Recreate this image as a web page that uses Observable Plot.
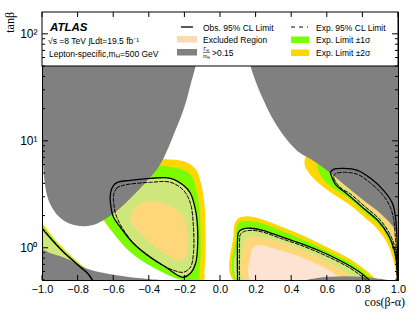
<!DOCTYPE html>
<html><head><meta charset="utf-8">
<script src="https://cdn.jsdelivr.net/npm/d3@7"></script>
<script src="https://cdn.jsdelivr.net/npm/@observablehq/plot@0.6"></script>
<style>body{margin:0;background:#fff} svg{display:block}</style>
</head><body><div id="chart"></div>
<script>
// axis ticks
const xTicks = [-1, -0.8, -0.6, -0.4, -0.2, 0, 0.2, 0.4, 0.6, 0.8, 1];
const yTicks = [1, 10, 100];
const yMinor = [0.5,0.6,0.7,0.8,0.9,2,3,4,5,6,7,8,9,20,30,40,50,60,70,80,90];

// Γ/m > 0.15 regions (grey)
const grayLeft = [[-1,160],[-0.073,160],[-0.140,50.2],[-0.169,33.4],[-0.191,24.2],[-0.219,17.5],[-0.253,12.7],[-0.287,9.18],[-0.326,6.64],[-0.365,5.24],[-0.410,4.32],[-0.461,3.48],[-0.517,2.81],[-0.573,2.31],[-0.640,1.91],[-0.702,1.68],[-0.758,1.61],[-0.815,1.64],[-0.865,1.75],[-0.910,1.99],[-0.944,2.37],[-0.966,2.81],[-0.983,3.64],[-0.992,4.81],[-0.997,6.64],[-1,8.24]];
const grayRight = [[0.124,160],[1,160],[1,1.14],[0.994,1.27],[0.972,1.57],[0.899,2.12],[0.803,2.81],[0.713,3.72],[0.618,5.02],[0.551,6.10],[0.489,7.09],[0.449,7.72],[0.376,10.2],[0.298,15.7],[0.242,24.2],[0.202,34.8],[0.169,50.2],[0.140,87.9]];
const grayLowLeft = [[-1,0.958],[-0.955,0.898],[-0.899,0.842],[-0.843,0.773],[-0.798,0.709],[-0.758,0.650],[-0.702,0.610],[-0.618,0.572],[-0.506,0.536],[-0.393,0.513],[-0.309,0.5],[-1,0.5]];
const grayLowRight = [[0.478,0.5],[0.534,0.525],[0.618,0.542],[0.702,0.548],[0.787,0.542],[0.871,0.525],[0.944,0.5]];

// lower-left corner band
const yellowLL = [[-1,1.68],[-0.966,1.44],[-0.927,1.19],[-0.882,1.0],[-0.831,0.824],[-0.787,0.709],[-0.742,0.623],[-0.702,0.560],[-0.674,0.5],[-1,0.5]];
const greenLL = [[-1,1.61],[-0.966,1.38],[-0.927,1.16],[-0.882,0.958],[-0.831,0.798],[-0.787,0.686],[-0.742,0.603],[-0.708,0.542],[-0.685,0.5],[-1,0.5]];
const obsLL = [[-1,1.51],[-0.961,1.27],[-0.921,1.07],[-0.876,0.898],[-0.831,0.773],[-0.787,0.665],[-0.747,0.584],[-0.719,0.5]];
const expLL = [[-1,1.54],[-0.961,1.29],[-0.921,1.09],[-0.876,0.908],[-0.831,0.781],[-0.787,0.672],[-0.747,0.590],[-0.716,0.5]];
const corner = [[-1,0.5]];

// left island
const yellowBlob = [[-0.393,6.94],[-0.309,6.79],[-0.236,6.64],[-0.180,6.23],[-0.135,5.36],[-0.107,3.88],[-0.090,2.52],[-0.084,1.47],[-0.084,0.860],[-0.090,0.623],[-0.096,0.5],[-0.185,0.5],[-0.264,0.560],[-0.354,0.665],[-0.449,0.824],[-0.545,1.11],[-0.646,1.71],[-0.702,2.52],[-0.674,4.32],[-0.562,5.97]];
const greenBlob = [[-0.393,6.10],[-0.309,5.84],[-0.236,5.59],[-0.191,5.24],[-0.157,4.61],[-0.135,3.48],[-0.118,2.37],[-0.112,1.47],[-0.112,0.860],[-0.118,0.623],[-0.124,0.5],[-0.197,0.5],[-0.253,0.525],[-0.337,0.610],[-0.438,0.756],[-0.534,1.02],[-0.629,1.61],[-0.685,2.37],[-0.657,4.05],[-0.551,5.59]];
const obsBlob = [[-0.618,3.27],[-0.601,3.88],[-0.579,4.14],[-0.506,4.32],[-0.393,4.51],[-0.281,4.51],[-0.208,3.88],[-0.169,3.27],[-0.140,2.26],[-0.129,1.57],[-0.129,1.02],[-0.140,0.724],[-0.169,0.584],[-0.208,0.536],[-0.242,0.560],[-0.298,0.650],[-0.393,0.824],[-0.489,1.11],[-0.562,1.57],[-0.601,1.95],[-0.618,2.63]];
const expBlob = [[-0.601,3.13],[-0.584,3.64],[-0.545,3.88],[-0.393,4.14],[-0.281,4.14],[-0.208,3.48],[-0.169,2.63],[-0.152,1.57],[-0.152,0.898],[-0.169,0.665],[-0.208,0.597],[-0.264,0.623],[-0.354,0.740],[-0.466,1.02],[-0.551,1.54],[-0.590,2.12],[-0.601,2.81]];
const orangeBlob = [[-0.506,1.83],[-0.489,2.26],[-0.449,2.63],[-0.354,2.75],[-0.264,2.42],[-0.208,1.95],[-0.185,1.41],[-0.185,1.0],[-0.197,0.824],[-0.242,0.773],[-0.320,0.898],[-0.410,1.19],[-0.478,1.54]];

// middle region
const yellowMid = [[0.073,0.5],[0.073,1.32],[0.079,1.68],[0.101,1.91],[0.146,1.99],[0.213,1.91],[0.309,1.68],[0.421,1.41],[0.534,1.16],[0.646,0.938],[0.730,0.790],[0.798,0.658],[0.843,0.572],[0.871,0.5]];
const greenMid = [[0.087,0.5],[0.087,1.27],[0.093,1.61],[0.112,1.77],[0.152,1.81],[0.213,1.75],[0.309,1.54],[0.421,1.29],[0.534,1.07],[0.646,0.860],[0.730,0.732],[0.798,0.610],[0.848,0.5]];
const obsMid = [[0.096,0.5],[0.096,1.19],[0.101,1.41],[0.124,1.51],[0.169,1.54],[0.236,1.47],[0.337,1.29],[0.449,1.11],[0.562,0.938],[0.646,0.807],[0.730,0.679],[0.798,0.572],[0.837,0.5]];
const expMid = [[0.107,0.5],[0.107,1.16],[0.112,1.35],[0.135,1.44],[0.180,1.47],[0.242,1.41],[0.337,1.24],[0.449,1.07],[0.562,0.898],[0.646,0.773],[0.730,0.650],[0.792,0.548],[0.820,0.5]];
const orangeMid = [[0.129,0.5],[0.129,1.07],[0.140,1.21],[0.169,1.29],[0.236,1.27],[0.337,1.14],[0.449,0.979],[0.562,0.807],[0.663,0.665],[0.730,0.560],[0.764,0.5]];
const peachMid = [[0.169,0.5],[0.169,0.860],[0.180,1.0],[0.213,1.07],[0.281,1.02],[0.393,0.898],[0.506,0.756],[0.590,0.650],[0.657,0.548],[0.680,0.5]];

// right band
const yellowRight = [[0.483,7.40],[0.472,6.10],[0.494,5.13],[0.545,4.14],[0.618,3.34],[0.713,2.63],[0.803,1.99],[0.882,1.51],[0.938,1.11],[0.966,0.824],[0.983,0.623],[0.992,0.5],[1,0.5],[1,8.24],[0.517,8.24]];
const greenRight = [[0.539,6.36],[0.562,4.81],[0.618,3.80],[0.713,3.00],[0.803,2.22],[0.888,1.68],[0.944,1.24],[0.972,0.918],[0.989,0.679],[0.996,0.5],[1,0.5],[1,8.24],[0.551,8.24]];
const lightRight = [[0.618,5.13],[0.624,4.71],[0.646,3.96],[0.713,3.20],[0.803,2.37],[0.888,1.79],[0.944,1.32],[0.975,0.979],[0.990,0.709],[0.995,0.5],[1,0.5],[1,8.24],[0.618,8.24]];
const orangeRight = [[0.646,4.51],[0.719,3.48],[0.803,2.58],[0.888,1.99],[0.944,1.51],[0.978,1.14],[0.992,0.860],[0.997,0.665],[1,0.560],[1,8.24],[0.646,8.24]];
const obsRight = [[0.997,0.5],[0.996,0.773],[0.993,1.07],[0.990,1.38],[0.983,1.95],[0.966,2.63],[0.916,3.48],[0.843,4.51],[0.770,5.36],[0.691,5.59],[0.635,5.47],[0.618,5.13],[0.624,4.71],[0.646,3.96],[0.713,3.20],[0.803,2.37],[0.888,1.79],[0.944,1.32],[0.975,0.979],[0.990,0.709],[0.995,0.5]];
const expRight = [[0.992,0.5],[0.989,0.773],[0.986,1.07],[0.980,1.41],[0.972,1.91],[0.949,2.52],[0.904,3.27],[0.837,4.14],[0.770,4.91],[0.697,5.13],[0.652,5.02],[0.635,4.71],[0.652,4.05],[0.685,3.56],[0.724,3.27],[0.809,2.47],[0.893,1.87],[0.949,1.38],[0.980,1.02],[0.992,0.740],[0.997,0.5]];

const C = {yellow:"#ffd700", green:"#7cfc00", light:"#cde77b", orange:"#fed77b", peach:"#fde3d1", gray:"#808080", peachKey:"#fdd9b6"};

const X = d => d[0], Y = d => d[1];
const poly = (a, fill) => Plot.line(a, {x: X, y: Y, fill, stroke: "none", curve: "catmull-rom-closed", clip: true});
const obsLine = (a, curve = "catmull-rom") => Plot.line(a, {x: X, y: Y, stroke: "black", strokeWidth: 1.3, curve, clip: true});
const expLine = (a, curve = "catmull-rom") => Plot.line(a, {x: X, y: Y, stroke: "black", strokeWidth: 1, strokeDasharray: "3.5,2", curve, clip: true});

const sup = {0:"⁰",1:"¹",2:"²"};
const plot = Plot.plot({
  width: 415, height: 312,
  marginLeft: 42, marginRight: 17, marginTop: 12, marginBottom: 32,
  style: {fontFamily: "'Liberation Sans', Arial, sans-serif", background: "white", color: "black"},
  x: {domain: [-1, 1], label: null},
  y: {type: "log", domain: [0.5, 160], label: null},
  marks: [
    poly(yellowLL, C.yellow), poly(yellowBlob, C.yellow), poly(yellowMid, C.yellow), poly(yellowRight, C.yellow),
    poly(greenLL, C.green), poly(greenBlob, C.green), poly(greenMid, C.green), poly(greenRight, C.green),
    poly(obsLL.concat(corner), C.light), poly(obsBlob, C.light), poly(obsMid, C.light), poly(lightRight, C.light),
    poly(orangeBlob, C.orange), poly(orangeMid, C.orange), poly(orangeRight, C.orange),
    poly(peachMid, C.peach),
    poly(grayLeft, C.gray), poly(grayRight, C.gray), poly(grayLowLeft, C.gray), poly(grayLowRight, C.gray),
    expLine(expLL), expLine(expBlob, "catmull-rom-closed"), expLine(expMid), expLine(expRight),
    obsLine(obsLL), obsLine(obsBlob, "catmull-rom-closed"), obsLine(obsMid), obsLine(obsRight),
    Plot.frame({stroke: "black", strokeWidth: 1}),
    Plot.axisX({ticks: xTicks, tickSize: 0, tickPadding: 5, tickFormat: d3.format(".1f"), fontSize: 11, label: null}),
    Plot.axisY({ticks: yTicks, tickSize: 0, tickPadding: 5, tickFormat: d => "10" + sup[Math.round(Math.log10(d))], fontSize: 12, label: null})
  ]
});
document.getElementById("chart").appendChild(plot);

const svg = d3.select(plot);
const sx = plot.scale("x"), sy = plot.scale("y");
const [x0, x1] = sx.range, [yb, yt] = sy.range;

// legend box
const lg = svg.append("g").attr("text-anchor", "start");
const legBottom = 66;
lg.append("rect").attr("x", x0).attr("y", yt).attr("width", x1 - x0).attr("height", legBottom - yt)
  .attr("fill", "white").attr("stroke", "black").attr("stroke-width", 1);
const txt = (x, y, s, size = 8.5) => lg.append("text").attr("x", x).attr("y", y).attr("font-size", size)
  .attr("text-anchor", "start").attr("fill", "black").text(s);
txt(50, 31, "ATLAS", 11.5).attr("font-weight", "bold").attr("font-style", "italic");
txt(48, 44, "√s =8 TeV ∫Ldt=19.5 fb⁻¹");
const l3 = txt(49, 56.5, "Lepton-specific,m");
l3.append("tspan").attr("font-size", 6).attr("dy", 1.5).text("H");
l3.append("tspan").attr("dy", -1.5).text("=500 GeV");
// column 2
lg.append("line").attr("x1", 181).attr("x2", 193).attr("y1", 27).attr("y2", 27).attr("stroke", "black").attr("stroke-width", 1.3);
lg.append("rect").attr("x", 177).attr("y", 36).attr("width", 20).attr("height", 6.5).attr("fill", C.peachKey);
lg.append("rect").attr("x", 177).attr("y", 49).attr("width", 20).attr("height", 6.5).attr("fill", C.gray);
txt(203, 30.5, "Obs. 95% CL Limit");
txt(203, 43, "Excluded Region");
const f1 = txt(203.5, 51, "Γ", 5); f1.append("tspan").attr("font-size", 3.5).attr("dy", 1).text("H");
lg.append("line").attr("x1", 203).attr("x2", 210).attr("y1", 52.5).attr("y2", 52.5).attr("stroke", "black").attr("stroke-width", 0.5);
const f2 = txt(203, 57.5, "m", 5); f2.append("tspan").attr("font-size", 3.5).attr("dy", 1).text("H");
txt(212, 56, ">0.15");
// column 3
lg.append("line").attr("x1", 291).attr("x2", 308).attr("y1", 27).attr("y2", 27).attr("stroke", "black").attr("stroke-width", 1).attr("stroke-dasharray", "4,4");
lg.append("rect").attr("x", 291).attr("y", 36.5).attr("width", 18).attr("height", 6.5).attr("fill", C.green);
lg.append("rect").attr("x", 291).attr("y", 49.5).attr("width", 18).attr("height", 6.5).attr("fill", C.yellow);
txt(316, 30.5, "Exp. 95% CL Limit");
txt(316, 43, "Exp. Limit ±1σ");
txt(316, 56, "Exp. Limit ±2σ");

// inward ticks on all four sides
const tg = svg.append("g").attr("stroke", "black").attr("stroke-width", 1);
const seg = (a, b, c, d) => tg.append("line").attr("x1", a).attr("y1", b).attr("x2", c).attr("y2", d);
xTicks.forEach(v => { const p = sx.apply(v); seg(p, yb, p, yb - 5); seg(p, yt, p, yt + 5); });
yTicks.forEach(v => { const p = sy.apply(v); seg(x0, p, x0 + 6, p); seg(x1, p, x1 - 6, p); });
yMinor.forEach(v => { const p = sy.apply(v); seg(x0, p, x0 + 3, p); seg(x1, p, x1 - 3, p); });

// axis titles
svg.append("text").attr("transform", `translate(14,${yt}) rotate(-90)`).attr("text-anchor", "end")
  .attr("font-family", "'Liberation Serif', 'Times New Roman', serif").attr("font-size", 12).attr("fill", "black").text("tanβ");
svg.append("text").attr("x", 405).attr("y", 306).attr("text-anchor", "end")
  .attr("font-family", "'Liberation Serif', 'Times New Roman', serif").attr("font-size", 12).attr("fill", "black").text("cos(β-α)");
</script>
</body></html>
